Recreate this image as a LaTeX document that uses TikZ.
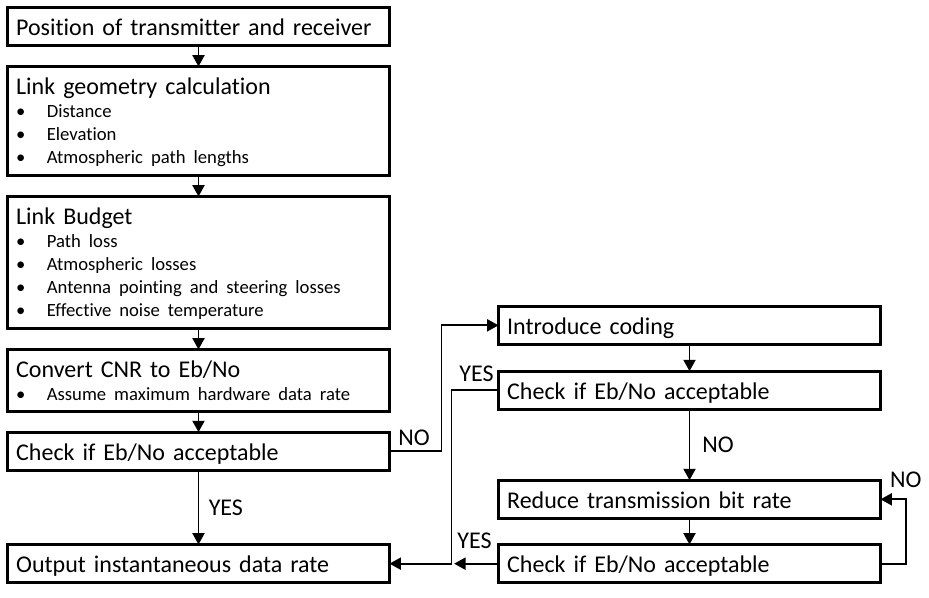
\documentclass[tikz,border=0pt]{standalone}
\usepackage{fontspec}
\setmainfont{Carlito}[Ligatures=NoCommon]
\usetikzlibrary{positioning,arrows.meta}

\newcommand{\boxhead}[1]{#1\par\fontsize{14}{17.25}\selectfont}
\newcommand{\boxitem}[1]{\makebox[23pt][l]{\textbullet}#1\par}

\tikzstyle{process} = [rectangle, draw=black, line width=2.25pt, outer sep=0pt, text width=273.5pt, align=left, inner xsep=6.5pt, inner ysep=0pt, text height=21.25pt, text depth=7.5pt, font=\fontsize{18}{21.6}\selectfont]
\tikzstyle{arrow} = [line width=1.4pt, -{Triangle[length=8.5pt,width=9pt]}]
\tikzstyle{answer} = [inner sep=0pt, font=\fontsize{18}{21.6}\selectfont]

\begin{document}
\begin{tikzpicture}[x=0.75pt, y=-0.75pt, node distance=15.5pt]
	\useasboundingbox (0,0) rectangle (929,598);
	% Place nodes
	\node [process, anchor=north west] (Position) at (7.5,7.5) {Position of transmitter and receiver};
	\node [process, below=of Position, text depth=60.75pt] (LinkGeometry) {\boxhead{Link geometry calculation}\boxitem{Distance}\boxitem{Elevation}\boxitem{Atmospheric path lengths}};
	\node [process, below=of LinkGeometry, text depth=78pt] (LinkBudget) {\boxhead{Link Budget}\boxitem{Path loss}\boxitem{Atmospheric losses}\boxitem{Antenna pointing and steering losses}\boxitem{Effective noise temperature}};
	\node [process, below=of LinkBudget, text depth=25.25pt] (ConvertCNR) {\boxhead{Convert CNR to Eb/No}\boxitem{Assume maximum hardware data rate}};
	\node [process, below=of ConvertCNR] (CheckEbNo) {Check if Eb/No acceptable};
	\node [process, below=55.5pt of CheckEbNo] (Output) {Output instantaneous data rate};
	\node [process, right=81.75pt of Output] (CheckRate) {Check if Eb/No acceptable};
	\node [process, above=19.5pt of CheckRate] (ReduceRate) {Reduce transmission bit rate};
	\node [process, above=53pt of ReduceRate] (CheckCoding) {Check if Eb/No acceptable};
	\node [process, above=20pt of CheckCoding] (Coding) {Introduce coding};
	% Draw edges
	\draw [arrow] (Position) -- (LinkGeometry);
	\draw [arrow] (LinkGeometry) -- (LinkBudget);
	\draw [arrow] (LinkBudget) -- (ConvertCNR);
	\draw [arrow] (ConvertCNR) -- (CheckEbNo);
	\draw [arrow] (CheckEbNo) -- node [answer, right=7pt] (YesOutput) {YES} (Output);
	\draw [arrow] (CheckEbNo.east) -- ++(39pt,0) |- (Coding.west);
	\node [answer, above right=3.75pt and 6.4pt of CheckEbNo.east] (NoCoding) {NO};
	\draw [arrow] (Coding) -- (CheckCoding);
	\draw [arrow] (CheckCoding) -- node [answer, right=9pt] (NoReduce) {NO} (ReduceRate);
	\draw [arrow] (ReduceRate) -- (CheckRate);
	\draw [arrow] (CheckCoding.west) -- ++(-35.25pt,0) coordinate (YesBend) |- (Output.east);
	\node [answer, above left=6.5pt and 3.4pt of CheckCoding.west] (YesCoding) {YES};
	\draw [arrow, shorten >=2pt] (CheckRate.west) -- (CheckRate.west -| YesBend);
	\node [answer, above left=11.25pt and 4.9pt of CheckRate.west] (YesRate) {YES};
	\draw [arrow] (CheckRate.east) -- ++(19pt,0) |- (ReduceRate.east);
	\node [answer, above right=8.25pt and 7pt of ReduceRate.east] (NoRate) {NO};
\end{tikzpicture}
\end{document}
